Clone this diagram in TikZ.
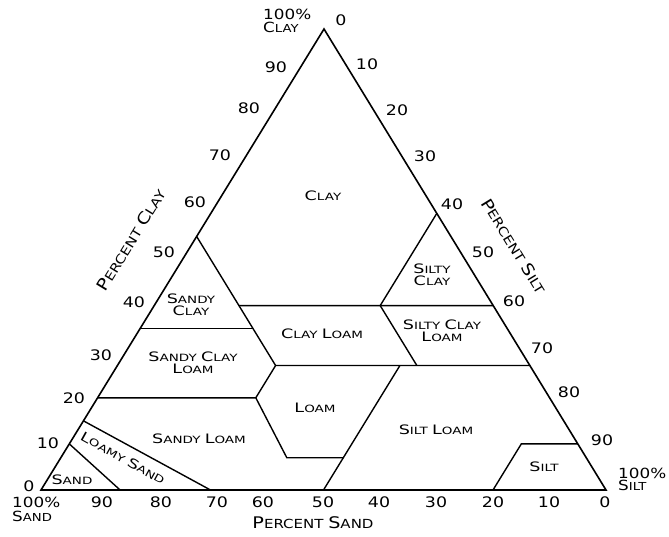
\documentclass[tikz,border=0pt]{standalone}
\usepackage{fontspec}
\setmainfont{DejaVu Sans}[FakeStretch=1.2]
\newfontfamily\regfont{DejaVu Sans}[FakeStretch=1.35]
\newcommand\rs[2]{{\fontsize{13}{13}\selectfont #1}{\fontsize{10}{10}\selectfont #2}}
\newcommand\as[2]{{\fontsize{16}{16}\selectfont #1}{\fontsize{12.5}{12.5}\selectfont #2}}
\newcommand\ks[2]{{\fontsize{14}{14}\selectfont #1}{\fontsize{11}{11}\selectfont #2}}
\tikzset{
  edge/.style={line width=1.6pt, line join=miter},
  bound/.style={line width=1.4pt},
  num/.style={inner sep=0pt, font=\fontsize{14.5}{14.5}\selectfont},
  region/.style={inner sep=0pt, align=center, font=\regfont\fontsize{10}{12}\selectfont},
  axis/.style={inner sep=0pt, font=\fontsize{12.5}{12.5}\selectfont},
  corner/.style={inner sep=0pt, anchor=west, font=\fontsize{11}{11}\selectfont}
}
\begin{document}
\begin{tikzpicture}[x=1pt,y=-1pt]
\useasboundingbox (0,0) rectangle (669,537);
\fill[white] (0,0) rectangle (669,537);
% corners
\coordinate (A) at (41,490);
\coordinate (B) at (606,490);
\coordinate (C) at (324,29);
% boundary vertices (barycentric: A=sand, B=silt, C=clay)
\coordinate (s1) at (barycentric cs:A=.90,C=.10);
\coordinate (s2) at (barycentric cs:A=.86,B=.14);
\coordinate (ls1) at (barycentric cs:A=.85,C=.15);
\coordinate (ls2) at (barycentric cs:A=.70,B=.30);
\coordinate (c20) at (barycentric cs:A=.80,C=.20);
\coordinate (L1) at (barycentric cs:A=.52,B=.28,C=.20);
\coordinate (L2) at (barycentric cs:A=.53,B=.40,C=.07);
\coordinate (L3) at (barycentric cs:A=.43,B=.50,C=.07);
\coordinate (sl1) at (barycentric cs:A=.23,B=.50,C=.27);
\coordinate (sl2) at (barycentric cs:A=.50,B=.50);
\coordinate (K) at (barycentric cs:A=.45,B=.28,C=.27);
\coordinate (r27) at (barycentric cs:B=.73,C=.27);
\coordinate (sc1) at (barycentric cs:A=.45,C=.55);
\coordinate (c35a) at (barycentric cs:A=.65,C=.35);
\coordinate (c35b) at (barycentric cs:A=.45,B=.20,C=.35);
\coordinate (c40a) at (barycentric cs:A=.45,B=.15,C=.40);
\coordinate (c40b) at (barycentric cs:B=.60,C=.40);
\coordinate (sc2) at (barycentric cs:B=.40,C=.60);
\coordinate (Q) at (barycentric cs:A=.20,B=.40,C=.40);
\coordinate (Q2) at (barycentric cs:A=.20,B=.53,C=.27);
\coordinate (si1) at (barycentric cs:B=.90,C=.10);
\coordinate (si2) at (barycentric cs:A=.10,B=.80,C=.10);
\coordinate (si3) at (barycentric cs:A=.20,B=.80);

% class boundaries
\draw[bound] (s1) -- (s2);
\draw[bound] (ls1) -- (ls2);
\draw[bound] (c20) -- (L1) -- (L2) -- (L3);
\draw[bound] (sl1) -- (sl2);
\draw[bound] (L1) -- (K) -- (r27);
\draw[bound] (sc1) -- (K);
\draw[bound] (c35a) -- (c35b);
\draw[bound] (c40a) -- (c40b);
\draw[bound] (sc2) -- (Q) -- (Q2);
\draw[bound] (si1) -- (si2) -- (si3);
% triangle
\draw[edge] (A) -- (B) -- (C) -- cycle;

% clay scale (left)
\node[num] (cl90) at (276,67) {90};
\node[num] (cl80) at (249,108) {80};
\node[num] (cl70) at (220,155) {70};
\node[num] (cl60) at (195,202) {60};
\node[num] (cl50) at (164,252) {50};
\node[num] (cl40) at (134,302) {40};
\node[num] (cl30) at (101,355) {30};
\node[num] (cl20) at (74,398) {20};
\node[num] (cl10) at (48,443) {10};
\node[num] (cl0) at (29,486) {0};
% silt scale (right)
\node[num] (si0) at (341,20) {0};
\node[num] (si10) at (367,64) {10};
\node[num] (si20) at (397,110) {20};
\node[num] (si30) at (425,156) {30};
\node[num] (si40) at (452,204) {40};
\node[num] (si50) at (483,252) {50};
\node[num] (si60) at (514,301) {60};
\node[num] (si70) at (542,348) {70};
\node[num] (si80) at (569,392) {80};
\node[num] (si90) at (602,440) {90};
% sand scale (bottom)
\node[num] (sa90) at (102,502) {90};
\node[num] (sa80) at (161,502) {80};
\node[num] (sa70) at (217,502) {70};
\node[num] (sa60) at (263,502) {60};
\node[num] (sa50) at (323,502) {50};
\node[num] (sa40) at (379,502) {40};
\node[num] (sa30) at (436,502) {30};
\node[num] (sa20) at (493,502) {20};
\node[num] (sa10) at (549,502) {10};
\node[num] (sa0) at (605,502) {0};

% corner labels
\node[corner] (tc1) at (263,14) {\fontsize{14}{14}\selectfont 100\%};
\node[corner] (tc2) at (263,27) {\ks{C}{LAY}};
\node[corner] (bl1) at (12,502) {\fontsize{14}{14}\selectfont 100\%};
\node[corner] (bl2) at (12,516) {\ks{S}{AND}};
\node[corner] (br1) at (618,473) {\fontsize{14}{14}\selectfont 100\%};
\node[corner] (br2) at (618,485) {\ks{S}{ILT}};

% axis titles
\node[axis] (tsand) at (313,523) {\as{P}{ERCENT} \as{S}{AND}};
\node[axis, rotate=58.5] (tclay) at (131,240) {\as{P}{ERCENT} \as{C}{LAY}};
\node[axis, rotate=-58.5] (tsilt) at (514,246) {\as{P}{ERCENT} \as{S}{ILT}};

% region labels
\node[region] (rclay) at (323,196) {\rs{C}{LAY}};
\node[region] (rsc) at (432,275) {\rs{S}{ILTY}\\\rs{C}{LAY}};
\node[region] (rsac) at (191,305) {\rs{S}{ANDY}\\\rs{C}{LAY}};
\node[region] (rcl) at (322,334) {\rs{C}{LAY} \rs{L}{OAM}};
\node[region] (rscl) at (442,331) {\rs{S}{ILTY} \rs{C}{LAY}\\\rs{L}{OAM}};
\node[region] (rsacl) at (193,363) {\rs{S}{ANDY} \rs{C}{LAY}\\\rs{L}{OAM}};
\node[region] (rloam) at (315,408) {\rs{L}{OAM}};
\node[region] (rsil) at (436,430) {\rs{S}{ILT} \rs{L}{OAM}};
\node[region] (rsal) at (199,439) {\rs{S}{ANDY} \rs{L}{OAM}};
\node[region, rotate=-29] (rls) at (123,458) {\rs{L}{OAMY} \rs{S}{AND}};
\node[region] (rsand) at (72,480) {\rs{S}{AND}};
\node[region] (rsilt) at (544,467) {\rs{S}{ILT}};
\end{tikzpicture}
\end{document}
